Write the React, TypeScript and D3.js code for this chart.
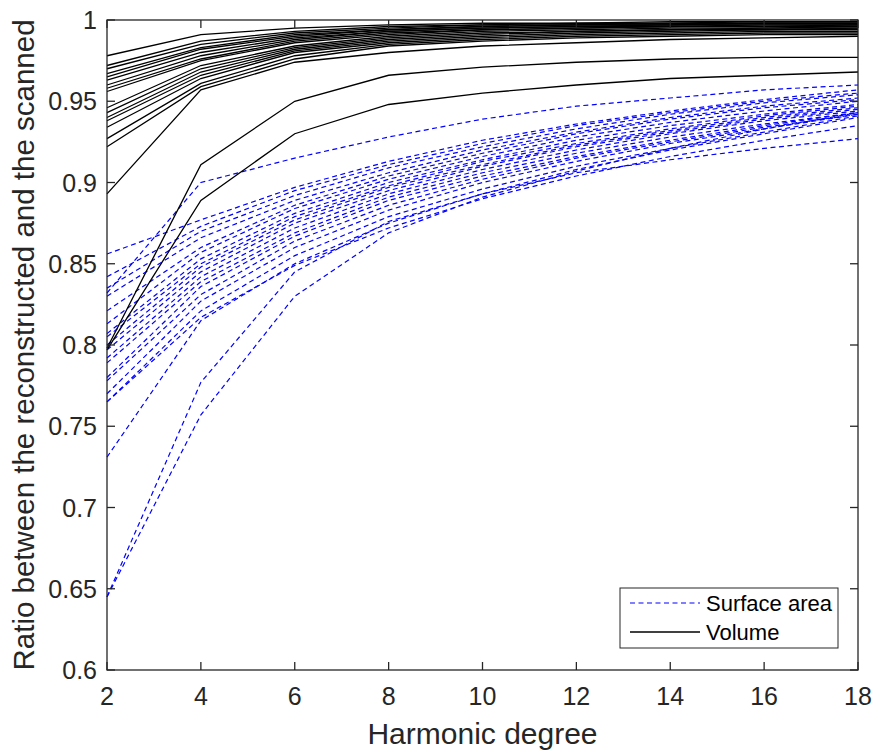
import React from "react";
import * as d3 from "d3";

// harmonic degrees on the x axis
const degrees = [2, 4, 6, 8, 10, 12, 14, 16, 18];

// ratio of surface area (reconstructed / scanned), one row per specimen
const surfaceArea: number[][] = [
  [0.832, 0.9, 0.915, 0.928, 0.939, 0.947, 0.952, 0.957, 0.96],
  [0.856, 0.877, 0.897, 0.913, 0.926, 0.936, 0.944, 0.951, 0.957],
  [0.842, 0.873, 0.895, 0.911, 0.924, 0.935, 0.943, 0.95, 0.955],
  [0.835, 0.87, 0.892, 0.909, 0.922, 0.933, 0.942, 0.949, 0.954],
  [0.83, 0.866, 0.889, 0.906, 0.92, 0.931, 0.94, 0.947, 0.952],
  [0.821, 0.86, 0.886, 0.904, 0.918, 0.93, 0.939, 0.946, 0.951],
  [0.813, 0.857, 0.884, 0.902, 0.916, 0.928, 0.937, 0.944, 0.95],
  [0.807, 0.853, 0.881, 0.9, 0.914, 0.926, 0.935, 0.942, 0.948],
  [0.805, 0.85, 0.879, 0.898, 0.913, 0.924, 0.933, 0.941, 0.947],
  [0.8, 0.848, 0.877, 0.897, 0.911, 0.923, 0.932, 0.94, 0.946],
  [0.797, 0.845, 0.875, 0.895, 0.91, 0.922, 0.931, 0.939, 0.945],
  [0.792, 0.842, 0.872, 0.893, 0.908, 0.92, 0.93, 0.938, 0.944],
  [0.789, 0.839, 0.869, 0.891, 0.906, 0.918, 0.928, 0.936, 0.943],
  [0.78, 0.836, 0.867, 0.889, 0.904, 0.916, 0.926, 0.935, 0.943],
  [0.778, 0.831, 0.864, 0.886, 0.902, 0.915, 0.925, 0.934, 0.942],
  [0.77, 0.827, 0.86, 0.883, 0.9, 0.913, 0.924, 0.933, 0.942],
  [0.765, 0.821, 0.855, 0.879, 0.896, 0.91, 0.921, 0.931, 0.941],
  [0.765, 0.817, 0.849, 0.872, 0.89, 0.904, 0.916, 0.926, 0.935],
  [0.731, 0.815, 0.85, 0.875, 0.893, 0.908, 0.92, 0.93, 0.94],
  [0.645, 0.777, 0.845, 0.876, 0.893, 0.906, 0.914, 0.921, 0.927],
  [0.645, 0.757, 0.83, 0.869, 0.891, 0.907, 0.921, 0.933, 0.943],
];

// ratio of volume (reconstructed / scanned)
const volume: number[][] = [
  [0.978, 0.991, 0.995, 0.997, 0.998, 0.998, 0.999, 0.999, 0.999],
  [0.972, 0.987, 0.993, 0.996, 0.997, 0.998, 0.998, 0.999, 0.999],
  [0.97, 0.985, 0.992, 0.995, 0.997, 0.997, 0.998, 0.998, 0.998],
  [0.967, 0.983, 0.991, 0.994, 0.996, 0.997, 0.997, 0.998, 0.998],
  [0.965, 0.982, 0.99, 0.994, 0.996, 0.997, 0.997, 0.998, 0.998],
  [0.963, 0.98, 0.989, 0.993, 0.995, 0.996, 0.997, 0.997, 0.997],
  [0.96, 0.978, 0.988, 0.993, 0.995, 0.996, 0.996, 0.997, 0.997],
  [0.958, 0.976, 0.987, 0.992, 0.994, 0.995, 0.996, 0.996, 0.997],
  [0.956, 0.975, 0.986, 0.991, 0.994, 0.995, 0.996, 0.996, 0.996],
  [0.946, 0.972, 0.984, 0.99, 0.993, 0.994, 0.995, 0.995, 0.996],
  [0.943, 0.97, 0.983, 0.989, 0.992, 0.993, 0.994, 0.995, 0.995],
  [0.94, 0.968, 0.982, 0.988, 0.991, 0.993, 0.994, 0.994, 0.995],
  [0.938, 0.966, 0.981, 0.987, 0.99, 0.992, 0.993, 0.994, 0.994],
  [0.934, 0.964, 0.98, 0.986, 0.989, 0.991, 0.992, 0.993, 0.993],
  [0.927, 0.961, 0.978, 0.985, 0.988, 0.99, 0.991, 0.992, 0.992],
  [0.922, 0.959, 0.976, 0.984, 0.987, 0.989, 0.99, 0.991, 0.991],
  [0.893, 0.957, 0.974, 0.98, 0.984, 0.986, 0.988, 0.989, 0.99],
  [0.798, 0.911, 0.95, 0.966, 0.971, 0.974, 0.976, 0.977, 0.977],
  [0.797, 0.889, 0.93, 0.948, 0.955, 0.96, 0.964, 0.966, 0.968],
];

const xTicks = [2, 4, 6, 8, 10, 12, 14, 16, 18];
const yTicks = [0.6, 0.65, 0.7, 0.75, 0.8, 0.85, 0.9, 0.95, 1];
const yTickLabels = ["0.6", "0.65", "0.7", "0.75", "0.8", "0.85", "0.9", "0.95", "1"];

const W = 876;
const H = 751;
const m = { left: 107, right: 858, top: 20, bottom: 670 };
const axisColor = "#262626";
const font = "'Liberation Sans', Arial, Helvetica, sans-serif";

export default function App() {
  const x = d3.scaleLinear().domain([2, 18]).range([m.left, m.right]);
  const y = d3.scaleLinear().domain([0.6, 1]).range([m.bottom, m.top]);
  const line = d3
    .line<number>()
    .x((_, i) => x(degrees[i]))
    .y((d) => y(d));
  const tick = 8;

  return (
    <svg
      width={W}
      height={H}
      style={{ position: "absolute", left: 0, top: 0, background: "#fff" }}
      fontFamily={font}
    >
      <rect x={0} y={0} width={W} height={H} fill="#fff" />

      {/* data */}
      <g>
        {surfaceArea.map((s, i) => (
          <path
            key={"s" + i}
            d={line(s) ?? ""}
            fill="none"
            stroke="#0000ff"
            strokeWidth={1.2}
            strokeDasharray="5,3.5"
          />
        ))}
        {volume.map((s, i) => (
          <path key={"v" + i} d={line(s) ?? ""} fill="none" stroke="#000" strokeWidth={1.3} />
        ))}
      </g>

      {/* box and ticks */}
      <rect
        x={m.left}
        y={m.top}
        width={m.right - m.left}
        height={m.bottom - m.top}
        fill="none"
        stroke={axisColor}
        strokeWidth={1.3}
      />
      {xTicks.map((t) => (
        <g key={"xt" + t}>
          <line x1={x(t)} x2={x(t)} y1={m.bottom} y2={m.bottom - tick} stroke={axisColor} strokeWidth={1.3} />
          <line x1={x(t)} x2={x(t)} y1={m.top} y2={m.top + tick} stroke={axisColor} strokeWidth={1.3} />
          <text x={x(t)} y={705} textAnchor="middle" fontSize={25} fill={axisColor}>
            {t}
          </text>
        </g>
      ))}
      {yTicks.map((t, i) => (
        <g key={"yt" + t}>
          <line x1={m.left} x2={m.left + tick} y1={y(t)} y2={y(t)} stroke={axisColor} strokeWidth={1.3} />
          <line x1={m.right} x2={m.right - tick} y1={y(t)} y2={y(t)} stroke={axisColor} strokeWidth={1.3} />
          <text x={97} y={y(t) + 9} textAnchor="end" fontSize={25} fill={axisColor}>
            {yTickLabels[i]}
          </text>
        </g>
      ))}

      <text x={(m.left + m.right) / 2} y={744} textAnchor="middle" fontSize={30} fill={axisColor}>
        Harmonic degree
      </text>
      <text
        transform={`translate(34,${(m.top + m.bottom) / 2}) rotate(-90)`}
        textAnchor="middle"
        fontSize={29.5}
        fill={axisColor}
      >
        Ratio between the reconstructed and the scanned
      </text>

      {/* legend */}
      <g>
        <rect x={620} y={588} width={218} height={60} fill="#fff" stroke={axisColor} strokeWidth={1} />
        <line x1={630} x2={700} y1={603} y2={603} stroke="#0000ff" strokeWidth={1.2} strokeDasharray="5,3.5" />
        <text x={706} y={611} fontSize={22} fill="#000">
          Surface area
        </text>
        <line x1={630} x2={700} y1={632} y2={632} stroke="#000" strokeWidth={1.3} />
        <text x={706} y={640} fontSize={22} fill="#000">
          Volume
        </text>
      </g>
    </svg>
  );
}
